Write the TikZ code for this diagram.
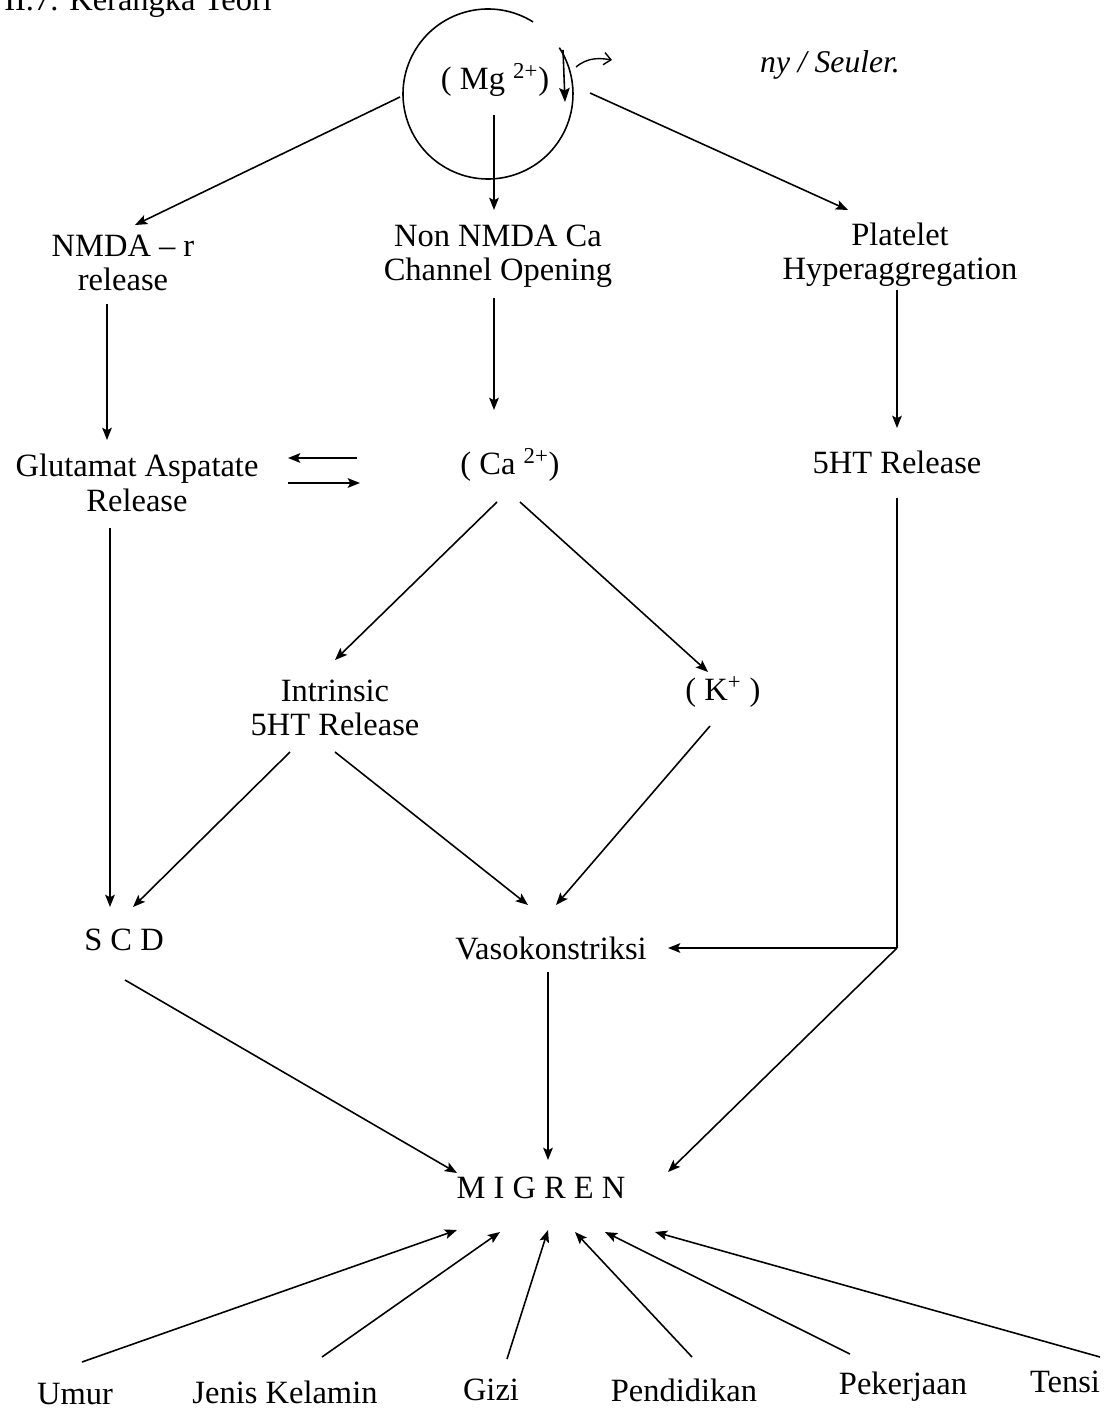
\documentclass[tikz,border=0pt]{standalone}
\usepackage{fontspec}
\setmainfont{Liberation Serif}
\usetikzlibrary{arrows.meta}
\begin{document}
\begin{tikzpicture}[x=0.02cm,y=-0.02cm,
  lbl/.style={inner sep=0pt, align=center, font=\fontsize{18.5pt}{19.5pt}\selectfont},
  ln/.style={line width=0.9pt},
  arr/.style={line width=0.9pt, -{Stealth[length=7pt,width=5.5pt,inset=1.5pt]}}]
\useasboundingbox (0,0) rectangle (1117,1412);
\clip (0,0) rectangle (1117,1412);

% title (cut at the top edge, as in the reference)
\node[anchor=base west, inner sep=0pt, font=\fontsize{18.5pt}{19.5pt}\selectfont] (title) at (4,11) {II.7. Kerangka Teori};

% Mg circle
\coordinate (mg) at (488,94);
\draw[ln] (mg) ++(-58:85) arc[start angle=-58, end angle=-393, radius=85];
\node[lbl] (mgtext) at (495,80) {( Mg \textsuperscript{2+})};
\draw[line width=0.9pt, -{Stealth[length=8pt,width=6pt,inset=1.5pt]}] ([shift={(75,-44)}]mg) -- ([shift={(77,8)}]mg);
\draw[line width=0.8pt, -{Straight Barb[length=4pt,width=7pt]}] ([shift={(88,-27)}]mg) .. controls ([shift={(100,-37)}]mg) and ([shift={(112,-36)}]mg) .. ([shift={(124,-34)}]mg);
\node[inner sep=0pt, font=\fontsize{18pt}{20pt}\selectfont\itshape] (hand) at (830,65) {ny / Seuler.};

% nodes
\node[lbl] (nmda) at (123,263) {NMDA -- r\\release};
\node[lbl] (nonnmda) at (498,256) {Non NMDA Ca\\Channel Opening};
\node[lbl] (platelet) at (900,255) {Platelet\\Hyperaggregation};
\node[lbl] (glut) at (137,483) {Glutamat Aspatate\\Release};
\node[lbl] (ca) at (510,465) {( Ca \textsuperscript{2+})};
\node[lbl] (fiveht) at (897,462) {5HT Release};
\node[lbl] (intr) at (335,708) {Intrinsic\\5HT Release};
\node[lbl] (kplus) at (723,692) {( K\textsuperscript{+} )};
\node[lbl] (scd) at (124,940) {S C D};
\node[lbl] (vaso) at (551,948) {Vasokonstriksi};
\node[lbl] (migren) at (541,1188) {M I G R E N};
\node[lbl] (umur) at (75,1394) {Umur};
\node[lbl] (jenis) at (285,1392) {Jenis Kelamin};
\node[lbl] (gizi) at (491,1390) {Gizi};
\node[lbl] (pend) at (684,1390) {Pendidikan};
\node[lbl] (peker) at (903,1387) {Pekerjaan};
\node[lbl] (tensi) at (1065,1382) {Tensi};

% connectors from Mg
\draw[arr] ([shift={(-88,3)}]mg) -- ([shift={(12,-38)}]nmda.center);
\draw[arr] ([shift={(6,21)}]mg) -- ([shift={(-4,-46)}]nonnmda.center);
\draw[arr] ([shift={(102,-1)}]mg) -- ([shift={(-52,-45)}]platelet.center);

% second level
\draw[arr] ([shift={(-16,41)}]nmda.center) -- ([shift={(-30,-43)}]glut.center);
\draw[arr] ([shift={(-4,42)}]nonnmda.center) -- ([shift={(-16,-55)}]ca.center);
\draw[arr] ([shift={(-3,35)}]platelet.center) -- ([shift={(0,-34)}]fiveht.center);

% double arrows
\draw[arr] ([shift={(-153,-7)}]ca.center) -- ([shift={(151,-25)}]glut.center);
\draw[arr] ([shift={(151,0)}]glut.center) -- ([shift={(-150,18)}]ca.center);

% from Ca
\draw[arr] ([shift={(-13,37)}]ca.center) -- ([shift={(0,-48)}]intr.center);
\draw[arr] ([shift={(10,37)}]ca.center) -- ([shift={(-15,-20)}]kplus.center);

% to SCD and Vasokonstriksi
\draw[arr] ([shift={(-27,45)}]glut.center) -- ([shift={(-14,-33)}]scd.center);
\draw[arr] ([shift={(-45,44)}]intr.center) -- ([shift={(9,-33)}]scd.center);
\draw[arr] ([shift={(0,44)}]intr.center) -- ([shift={(-23,-43)}]vaso.center);
\draw[arr] ([shift={(-13,34)}]kplus.center) -- ([shift={(5,-43)}]vaso.center);

% 5HT release path
\coordinate (corner) at (897,948);
\draw[ln] ([shift={(0,36)}]fiveht.center) -- (corner);
\draw[arr] (corner) -- ([shift={(117,0)}]vaso.center);
\draw[arr] (corner) -- ([shift={(127,-16)}]migren.center);

% to MIGREN
\draw[arr] ([shift={(1,40)}]scd.center) -- ([shift={(-84,-15)}]migren.center);
\draw[arr] ([shift={(-3,24)}]vaso.center) -- ([shift={(7,-28)}]migren.center);

% bottom factors
\draw[arr] ([shift={(7,-32)}]umur.center) -- ([shift={(-84,42)}]migren.center);
\draw[arr] ([shift={(37,-35)}]jenis.center) -- ([shift={(-41,44)}]migren.center);
\draw[arr] ([shift={(16,-31)}]gizi.center) -- ([shift={(7,42)}]migren.center);
\draw[arr] ([shift={(8,-33)}]pend.center) -- ([shift={(34,44)}]migren.center);
\draw[arr] ([shift={(-53,-33)}]peker.center) -- ([shift={(64,44)}]migren.center);
\draw[arr] ([shift={(35,-25)}]tensi.center) -- ([shift={(114,44)}]migren.center);
\end{tikzpicture}
\end{document}
